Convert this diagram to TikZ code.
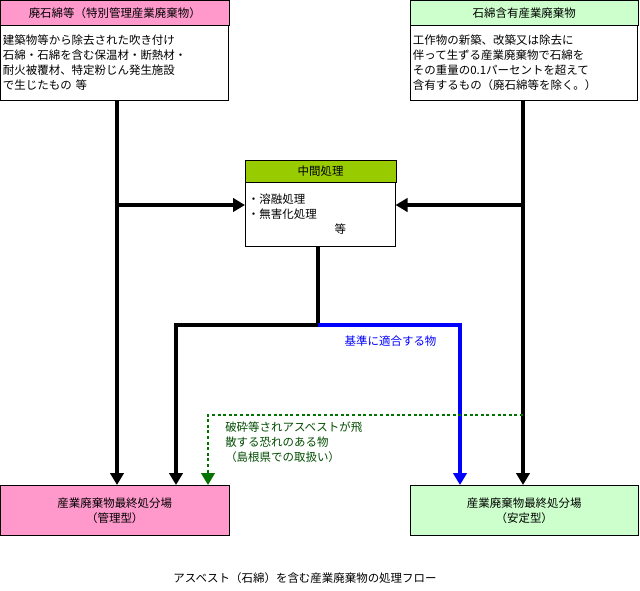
\documentclass[tikz,border=0pt]{standalone}
\usepackage{fontspec}
\setmainfont{Noto Sans CJK JP}
\usetikzlibrary{positioning,arrows.meta}
\definecolor{haipink}{RGB}{255,153,204}
\definecolor{ganyugreen}{RGB}{204,255,204}
\definecolor{chukangreen}{RGB}{153,204,0}
\begin{document}
\begin{tikzpicture}[x=0.75pt,y=-0.75pt,font=\fontsize{8.6pt}{11.2pt}\selectfont,
    headbox/.style={draw,anchor=north west,minimum height=18.75pt,inner sep=0pt},
    bodybox/.style={draw,fill=white,anchor=north west,align=left,text width=#1,inner sep=2pt},
    flow/.style={line width=3pt,-{Triangle[length=9pt,width=10pt]}},
    flowline/.style={line width=3pt}]
    \useasboundingbox (0,0) rectangle (640,590);

    % upper boxes
    \node[headbox,fill=haipink,minimum width=171.75pt] (hai) at (0,0) {廃石綿等（特別管理産業廃棄物）};
    \node[bodybox=167pt,minimum height=56pt] (haitext) at (0,25) {建築物等から除去された吹き付け\\石綿・石綿を含む保温材・断熱材・\\耐火被覆材、特定粉じん発生施設\\で生じたもの 等};
    \node[headbox,fill=ganyugreen,minimum width=171pt] (ganyu) at (410,0) {石綿含有産業廃棄物};
    \node[bodybox=166.5pt,minimum height=56pt] (ganyutext) at (410,25) {工作物の新築、改築又は除去に\\伴って生ずる産業廃棄物で石綿を\\その重量の0.1パーセントを超えて\\含有するもの（廃石綿等を除く。）};

    % intermediate treatment
    \node[headbox,fill=chukangreen,minimum width=113pt,minimum height=16.5pt] (chukan) at (245,160) {中間処理};
    \node[bodybox=108.5pt,minimum height=48pt,anchor=north west] (chukantext) at (245,182) {・溶融処理\\・無害化処理\\\hspace*{65pt}等};

    % final disposal
    \node[draw,fill=haipink,minimum width=171.75pt,minimum height=37.5pt,anchor=north west,align=center] (kanri) at (0,485) {産業廃棄物最終処分場\\（管理型）};
    \node[draw,fill=ganyugreen,minimum width=171pt,minimum height=37.5pt,anchor=north west,align=center] (antei) at (410,485) {産業廃棄物最終処分場\\（安定型）};

    \coordinate (lsplit) at (117,205);
    \coordinate (rsplit) at (523,205);
    \coordinate (mjoin) at (318,325);
    \coordinate (dotstart) at (523,415);

    \draw[flow] (117,100) -- (kanri.north -| lsplit);
    \draw[flow] (lsplit) -- (chukantext.west |- lsplit);
    \draw[flow] (523,100) -- (antei.north -| rsplit);
    \draw[flow] (rsplit) -- (chukantext.east |- rsplit);
    \draw[flowline] (chukantext.south -| mjoin) -- (mjoin);
    \draw[flow] (mjoin) -- (176,325) -- (176,485);
    \draw[flow,blue] (mjoin) -- (460,325) -- (460,485);
    \node[blue,anchor=west] (tekigo) at (340,341) {基準に適合する物};
    \draw[line width=2.2pt,dotted,green!45!black,-{Triangle[length=9pt,width=10pt]}] (dotstart) -- (208,415) -- (208,485);
    \node[green!30!black,anchor=north west,align=left,inner sep=0pt] (hasai) at (225,422) {破砕等されアスベストが飛\\散する恐れのある物\\（島根県での取扱い）};

    \node (caption) at (305,578) {アスベスト（石綿）を含む産業廃棄物の処理フロー};
\end{tikzpicture}
\end{document}
